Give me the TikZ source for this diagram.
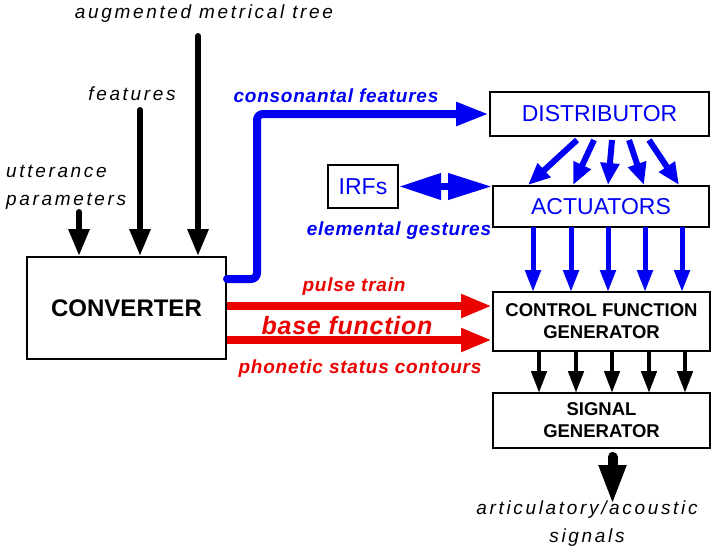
\documentclass[tikz,border=0pt]{standalone}
\usepackage{fontspec}
\setmainfont{Liberation Sans}
\newfontfamily\lblfont[LetterSpace=14]{Liberation Sans}
\newfontfamily\lblbfont[LetterSpace=4]{Liberation Sans}
\newfontfamily\basefont[LetterSpace=3]{Liberation Sans}
\usetikzlibrary{arrows.meta,calc}
\definecolor{myblue}{RGB}{0,0,245}
\definecolor{myred}{RGB}{235,0,0}
\begin{document}
\begin{tikzpicture}[x=1pt,y=-1pt,
  box/.style={draw=black,line width=2pt,fill=white,inner sep=0pt,align=center},
  bluetext/.style={text=myblue,font=\fontsize{23}{25}\selectfont},
  blacktext/.style={text=black,font=\fontsize{18.5}{22}\selectfont\bfseries},
  inlbl/.style={text=black,font=\fontsize{19}{28}\selectfont\lblfont\itshape,align=center,inner sep=0pt},
  bluelbl/.style={text=myblue,font=\fontsize{19}{20}\selectfont\lblbfont\bfseries\itshape,inner sep=0pt},
  redlbl/.style={text=myred,font=\fontsize{19}{20}\selectfont\lblbfont\bfseries\itshape,inner sep=0pt},
  inarrow/.style={draw=black,line width=6pt,line cap=round,-{Triangle[width=20pt,length=27pt]}},
  smallblack/.style={draw=black,line width=4.5pt,-{Triangle[width=15pt,length=22pt]}},
  smallblue/.style={draw=myblue,line width=5pt,-{Triangle[width=15pt,length=22pt]}},
  diagblue/.style={draw=myblue,line width=6pt,-{Triangle[width=18pt,length=22pt]}},
  bigblue/.style={draw=myblue,line width=8pt,line cap=round,rounded corners=6pt,-{Triangle[width=22pt,length=33pt]}},
  bigred/.style={draw=myred,line width=8pt,-{Triangle[width=22pt,length=31pt]}},
  dblblue/.style={draw=myblue,line width=7pt,{Triangle[width=25pt,length=42pt]}-{Triangle[width=25pt,length=44pt]}},
  outarrow/.style={draw=black,line width=10pt,line cap=round,-{Triangle[width=25pt,length=40pt]}}
]
\useasboundingbox[fill=white] (0,0) rectangle (711,550);

% boxes
\node[box,minimum width=199pt,minimum height=102pt,font=\fontsize{24}{26}\selectfont\bfseries] (conv) at (126.5,308) {CONVERTER};
\node[box,minimum width=219pt,minimum height=44pt,bluetext] (dist) at (599.5,114) {DISTRIBUTOR};
\node[box,minimum width=216pt,minimum height=41pt,bluetext] (act) at (601,206.5) {ACTUATORS};
\node[box,minimum width=70pt,minimum height=43pt,bluetext] (irf) at (363,186.5) {IRFs};
\node[box,minimum width=217pt,minimum height=59pt,blacktext] (cfg) at (601.5,321.5) {CONTROL FUNCTION\\GENERATOR};
\node[box,minimum width=217pt,minimum height=55pt,blacktext] (sig) at (601.5,420.5) {SIGNAL\\GENERATOR};

% input labels
\node[inlbl] (tamt) at (204,14) {augmented metrical tree};
\node[inlbl] (tfeat) at (132,94) {features};
\node[inlbl,align=left,anchor=west] (tutt) at (6,187) {utterance\\parameters};

% input arrows
\coordinate (u1) at (79,212);
\coordinate (u2) at (140,110);
\coordinate (u3) at (198,36);
\draw[inarrow] (u1) -- (u1 |- conv.north);
\draw[inarrow] (u2) -- (u2 |- conv.north);
\draw[inarrow] (u3) -- (u3 |- conv.north);

% consonantal features
\coordinate (b1) at ($(conv.north east)+(0,23)$);
\draw[bigblue] (b1) -- ++(30,0) |- (dist.west);
\node[bluelbl] (tcons) at (336,96) {consonantal features};

% IRFs <-> actuators
\draw[dblblue] (irf.east) -- (irf.east -| act.west);
\node[bluelbl] (telem) at (399,231) {elemental gestures};

% distributor -> actuators
\foreach \sx/\ex in {88/39, 105/84, 123/119, 140/155, 160/190}{
  \draw[diagblue] ($(dist.south west)+(\sx,3)$) -- ($(act.north west)+(\ex-3,0)$);
}

% actuators -> cfg
\foreach \xx in {533,571,608,645,682}{
  \draw[smallblue] (\xx,227) -- (\xx,292);
}

% cfg -> signal generator
\foreach \xx in {539,576,612,649,685}{
  \draw[smallblack] (\xx,351) -- (\xx,393);
}

% red arrows
\coordinate (r1) at ($(conv.north east)+(0,50)$);
\coordinate (r2) at ($(conv.north east)+(0,84)$);
\draw[bigred] (r1) -- (r1 -| cfg.west);
\draw[bigred] (r2) -- (r2 -| cfg.west);
\node[redlbl] (tpulse) at (354,287) {pulse train};
\node[redlbl,font=\fontsize{25}{26}\selectfont\basefont\bfseries\itshape] (tbase) at (347,326) {base function};
\node[redlbl] (tphon) at (360,369) {phonetic status contours};

% output
\coordinate (o1) at ($(sig.south)+(11,8)$);
\draw[outarrow] (o1) -- ++(0,48);
\node[inlbl] (tout) at (587,524) {articulatory/acoustic\\signals};
\end{tikzpicture}
\end{document}
